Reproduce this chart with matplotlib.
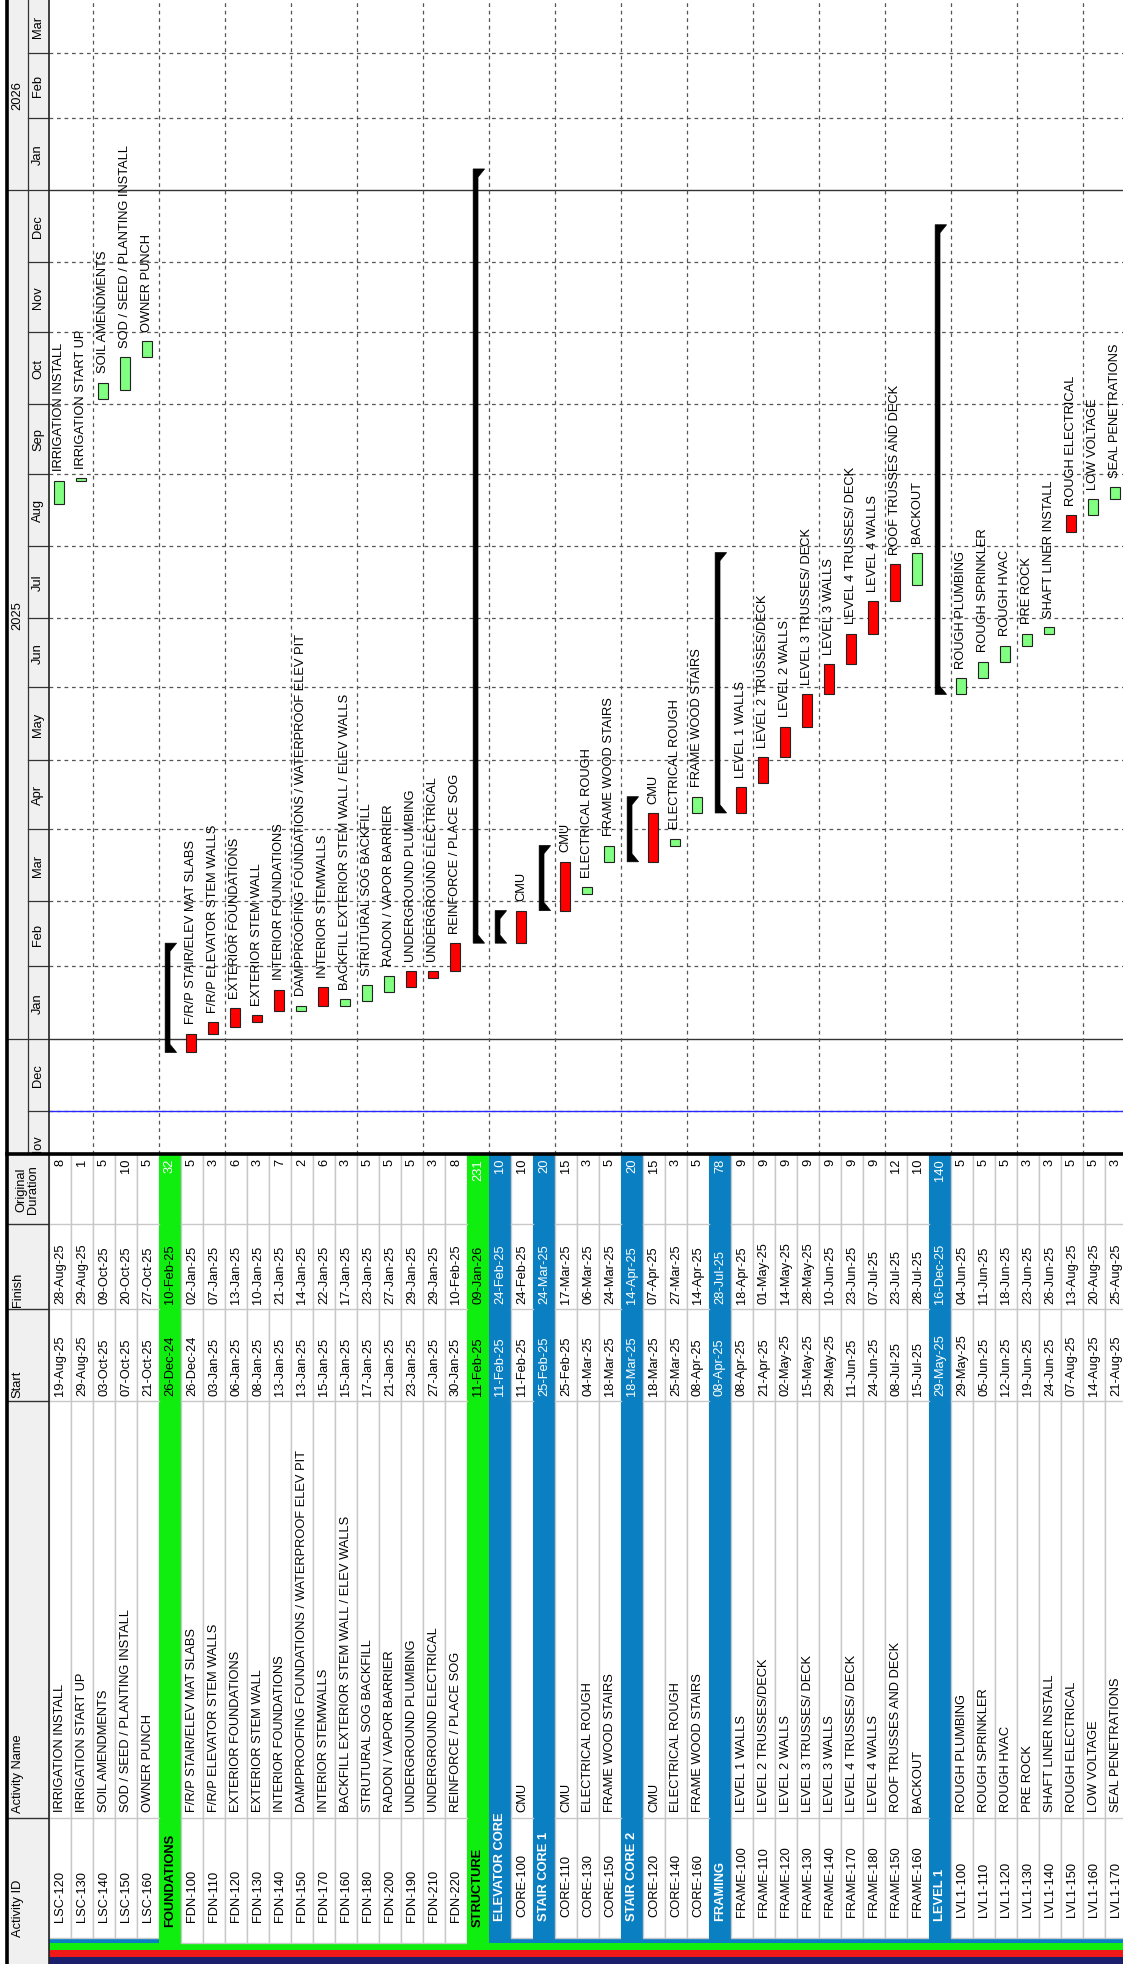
import matplotlib
matplotlib.use("Agg")
import matplotlib.pyplot as plt
from matplotlib.patches import Rectangle, Polygon
from matplotlib.lines import Line2D
import matplotlib.dates as mdates
import pandas as pd

plt.rcParams['font.family'] = ['Liberation Sans', 'DejaVu Sans']

# ---- schedule data (one entry per row) ----
act_ids = ["LSC-120", "LSC-130", "LSC-140", "LSC-150", "LSC-160",
           "FOUNDATIONS", "FDN-100", "FDN-110", "FDN-120", "FDN-130", "FDN-140",
           "FDN-150", "FDN-170", "FDN-160", "FDN-180", "FDN-200", "FDN-190",
           "FDN-210", "FDN-220",
           "STRUCTURE", "ELEVATOR CORE", "CORE-100",
           "STAIR CORE 1", "CORE-110", "CORE-130", "CORE-150",
           "STAIR CORE 2", "CORE-120", "CORE-140", "CORE-160",
           "FRAMING", "FRAME-100", "FRAME-110", "FRAME-120", "FRAME-130",
           "FRAME-140", "FRAME-170", "FRAME-180", "FRAME-150", "FRAME-160",
           "LEVEL 1", "LVL1-100", "LVL1-110", "LVL1-120", "LVL1-130",
           "LVL1-140", "LVL1-150", "LVL1-160", "LVL1-170"]

act_names = ["IRRIGATION INSTALL", "IRRIGATION START UP", "SOIL AMENDMENTS",
             "SOD / SEED / PLANTING INSTALL", "OWNER PUNCH",
             "", "F/R/P STAIR/ELEV MAT SLABS", "F/R/P ELEVATOR STEM WALLS",
             "EXTERIOR FOUNDATIONS", "EXTERIOR STEM WALL", "INTERIOR FOUNDATIONS",
             "DAMPPROOFING FOUNDATIONS / WATERPROOF ELEV PIT", "INTERIOR STEMWALLS",
             "BACKFILL EXTERIOR STEM WALL / ELEV WALLS", "STRUTURAL SOG BACKFILL",
             "RADON / VAPOR BARRIER", "UNDERGROUND PLUMBING",
             "UNDERGROUND ELECTRICAL", "REINFORCE / PLACE SOG",
             "", "", "CMU",
             "", "CMU", "ELECTRICAL ROUGH", "FRAME WOOD STAIRS",
             "", "CMU", "ELECTRICAL ROUGH", "FRAME WOOD STAIRS",
             "", "LEVEL 1 WALLS", "LEVEL 2 TRUSSES/DECK", "LEVEL 2 WALLS",
             "LEVEL 3 TRUSSES/ DECK", "LEVEL 3 WALLS", "LEVEL 4 TRUSSES/ DECK",
             "LEVEL 4 WALLS", "ROOF TRUSSES AND DECK", "BACKOUT",
             "", "ROUGH PLUMBING", "ROUGH SPRINKLER", "ROUGH HVAC", "PRE ROCK",
             "SHAFT LINER INSTALL", "ROUGH ELECTRICAL", "LOW VOLTAGE",
             "SEAL PENETRATIONS"]

start_dates = ["19-Aug-25", "29-Aug-25", "03-Oct-25", "07-Oct-25", "21-Oct-25",
               "26-Dec-24", "26-Dec-24", "03-Jan-25", "06-Jan-25", "08-Jan-25",
               "13-Jan-25", "13-Jan-25", "15-Jan-25", "15-Jan-25", "17-Jan-25",
               "21-Jan-25", "23-Jan-25", "27-Jan-25", "30-Jan-25",
               "11-Feb-25", "11-Feb-25", "11-Feb-25",
               "25-Feb-25", "25-Feb-25", "04-Mar-25", "18-Mar-25",
               "18-Mar-25", "18-Mar-25", "25-Mar-25", "08-Apr-25",
               "08-Apr-25", "08-Apr-25", "21-Apr-25", "02-May-25", "15-May-25",
               "29-May-25", "11-Jun-25", "24-Jun-25", "08-Jul-25", "15-Jul-25",
               "29-May-25", "29-May-25", "05-Jun-25", "12-Jun-25", "19-Jun-25",
               "24-Jun-25", "07-Aug-25", "14-Aug-25", "21-Aug-25"]

finish_dates = ["28-Aug-25", "29-Aug-25", "09-Oct-25", "20-Oct-25", "27-Oct-25",
                "10-Feb-25", "02-Jan-25", "07-Jan-25", "13-Jan-25", "10-Jan-25",
                "21-Jan-25", "14-Jan-25", "22-Jan-25", "17-Jan-25", "23-Jan-25",
                "27-Jan-25", "29-Jan-25", "29-Jan-25", "10-Feb-25",
                "09-Jan-26", "24-Feb-25", "24-Feb-25",
                "24-Mar-25", "17-Mar-25", "06-Mar-25", "24-Mar-25",
                "14-Apr-25", "07-Apr-25", "27-Mar-25", "14-Apr-25",
                "28-Jul-25", "18-Apr-25", "01-May-25", "14-May-25", "28-May-25",
                "10-Jun-25", "23-Jun-25", "07-Jul-25", "23-Jul-25", "28-Jul-25",
                "16-Dec-25", "04-Jun-25", "11-Jun-25", "18-Jun-25", "23-Jun-25",
                "26-Jun-25", "13-Aug-25", "20-Aug-25", "25-Aug-25"]

durations = [8, 1, 5, 10, 5,
             32, 5, 3, 6, 3, 7, 2, 6, 3, 5, 5, 5, 3, 8,
             231, 10, 10,
             20, 15, 3, 5,
             20, 15, 3, 5,
             78, 9, 9, 9, 9, 9, 9, 9, 12, 10,
             140, 5, 5, 5, 3, 3, 5, 5, 3]

# G/B = green/blue WBS heading, C = critical activity, N = non-critical activity
row_kinds = ["N", "N", "N", "N", "N",
             "G", "C", "C", "C", "C", "C", "N", "C", "N", "N", "N", "C", "C", "C",
             "G", "B", "C",
             "B", "C", "N", "N",
             "B", "C", "N", "N",
             "B", "C", "C", "C", "C", "C", "C", "C", "C", "N",
             "B", "N", "N", "N", "N", "N", "C", "N", "N"]

# rows that sit inside a blue WBS band
in_blue = [True] * 5 + [False] * 15 + [True] * 29

# ---- colours ----
WBS_GREEN = "#10ee10"
WBS_BLUE = "#0a7fc2"
BAR_RED = "#ff0000"
BAR_GREEN = "#80ff80"
NAVY = "#1c1f6b"
STRIP_RED = "#f01818"
HEAD_GRAY = "#f0f0f0"
CELL_LINE = "#c8c8c8"
FS = 9.3

W, H = 1123, 1965
ROW = 22.0
X0 = 49           # first row edge
XH = 7            # header strip left edge
G_BOT = 1155      # gantt / table split
PX_DAY = 2.325
Y_JAN25 = 1039.5

fig = plt.figure(figsize=(W / 100, H / 100), dpi=100)
fig.patch.set_facecolor("white")


def frect(x0, y0, x1, y1):
    return [x0 / W, 1 - y1 / H, (x1 - x0) / W, (y1 - y0) / H]


starts = pd.to_datetime(start_dates, format="%d-%b-%y")
finishes = pd.to_datetime(finish_dates, format="%d-%b-%y") + pd.Timedelta(days=1)
s_num = mdates.date2num(starts)
f_num = mdates.date2num(finishes)

jan25 = mdates.date2num(pd.Timestamp("2025-01-01"))
y_lo = jan25 - (G_BOT - Y_JAN25) / PX_DAY
y_hi = jan25 + Y_JAN25 / PX_DAY
n_rows = len(act_ids)
x_hi = (W - X0) / ROW

# ---- gantt area ----
ax = fig.add_axes(frect(X0, 0, W, G_BOT))
ax.set_xlim(0, x_hi)
ax.set_ylim(y_lo, y_hi)
ax.axis("off")

months = pd.date_range("2024-11-01", "2026-03-01", freq="MS")
for m in months:
    yv = mdates.date2num(m)
    if m.month == 1:
        ax.axhline(yv, color="#333333", lw=1.0, zorder=1)
    else:
        ax.axhline(yv, color="#555555", lw=0.9, ls=(0, (3, 3)), zorder=1)
for k in range(2, n_rows + 1, 3):
    ax.axvline(k, color="#555555", lw=0.9, ls=(0, (3, 3)), zorder=1)
ax.axhline(mdates.date2num(pd.Timestamp("2024-12-01")), color="#2a2aff", lw=1.0, zorder=2)

for i in range(n_rows):
    kind = row_kinds[i]
    s, f = s_num[i], f_num[i]
    if kind in ("G", "B"):
        # summary bar with flag ends
        xa, xb, xt = i + 0.28, i + 0.50, i + 0.80
        tl = 3.5
        poly = Polygon([(xa, s), (xt, s), (xb, s + tl), (xb, f - tl), (xt, f), (xa, f)],
                       closed=True, facecolor="black", edgecolor="black", lw=0.5, zorder=4)
        ax.add_patch(poly)
    else:
        color = BAR_RED if kind == "C" else BAR_GREEN
        ax.bar(i + 0.45, f - s, bottom=s, width=0.48, color=color,
               edgecolor="#222222", linewidth=0.8, zorder=4)
        ax.text(i + 0.47, f + 4.5, act_names[i], rotation=90, ha="center", va="bottom",
                fontsize=FS, color="black", zorder=5, clip_on=True)

# ---- timeline header ----
axm = fig.add_axes(frect(XH, 0, X0, G_BOT), sharey=ax)
axm.set_xlim(0, 1)
axm.axis("off")
axm.add_patch(Rectangle((0, y_lo), 1, y_hi - y_lo, facecolor=HEAD_GRAY, edgecolor="none"))
axm.axvline(0.5, color="#333333", lw=0.9)
for m in months:
    yv = mdates.date2num(m)
    nxt = min(mdates.date2num(m + pd.offsets.MonthBegin(1)), y_hi)
    x_from = 0.0 if m.month == 1 else 0.5
    axm.plot([x_from, 1], [yv, yv], color="#333333", lw=0.9)
    axm.text(0.74, (yv + nxt) / 2, m.strftime("%b"), rotation=90, ha="center",
             va="center", fontsize=FS, clip_on=True)
year_spans = {"2025": ("2025-01-01", "2026-01-01"), "2026": ("2026-01-01", None)}
for label, (a, b) in year_spans.items():
    ya = mdates.date2num(pd.Timestamp(a))
    yb = y_hi if b is None else mdates.date2num(pd.Timestamp(b))
    axm.text(0.24, (ya + yb) / 2, label, rotation=90, ha="center", va="center",
             fontsize=FS, clip_on=True)

# ---- table body ----
C_DUR, C_FIN, C_START, C_NAME = 1225, 1310, 1402, 1819
axt = fig.add_axes(frect(X0, G_BOT, W, H))
axt.set_xlim(0, x_hi)
axt.set_ylim(H, G_BOT)
axt.axis("off")

# level strips along the bottom edge
axt.add_patch(Rectangle((0, 1958), n_rows, 7, facecolor=NAVY, edgecolor="none"))
axt.add_patch(Rectangle((0, 1951), n_rows, 7, facecolor=STRIP_RED, edgecolor="none"))
axt.add_patch(Rectangle((0, 1944), n_rows, 7, facecolor=WBS_GREEN, edgecolor="none"))

for i in range(n_rows):
    kind = row_kinds[i]
    if kind == "G":
        axt.add_patch(Rectangle((i, G_BOT), 1, 1951 - G_BOT, facecolor=WBS_GREEN, edgecolor="none"))
    elif kind == "B":
        axt.add_patch(Rectangle((i, G_BOT), 1, 1944 - G_BOT, facecolor=WBS_BLUE, edgecolor="none"))
    else:
        if in_blue[i]:
            axt.add_patch(Rectangle((i, 1939), 1, 5, facecolor=WBS_BLUE, edgecolor="none"))
            cell_end = 1939
        else:
            cell_end = 1944
        axt.add_patch(Rectangle((i, G_BOT), 1, cell_end - G_BOT, facecolor="white",
                                edgecolor=CELL_LINE, lw=1.0))
        for yc in (C_DUR, C_FIN, C_START, C_NAME):
            axt.plot([i, i + 1], [yc, yc], color=CELL_LINE, lw=1.0)

for i in range(n_rows):
    kind = row_kinds[i]
    xc = i + 0.5
    if kind in ("G", "B"):
        tc = "black" if kind == "G" else "white"
        id_y = 1927 if kind == "G" else 1921
        axt.text(xc, id_y, act_ids[i], rotation=90, ha="center", va="bottom",
                 fontsize=FS, fontweight="bold", color=tc)
    else:
        id_y = 1917 if in_blue[i] and i > 4 else 1922
        axt.text(xc, id_y, act_ids[i], rotation=90, ha="center", va="bottom",
                 fontsize=FS, color="black")
        axt.text(xc, 1812, act_names[i], rotation=90, ha="center", va="bottom",
                 fontsize=FS, color="black")
        tc = "black"
    axt.text(xc, 1396, start_dates[i], rotation=90, ha="center",
             va="bottom", fontsize=FS, color=tc)
    axt.text(xc, 1304, finish_dates[i], rotation=90, ha="center",
             va="bottom", fontsize=FS, color=tc)
    axt.text(xc, 1159, str(durations[i]), rotation=90, ha="center", va="top",
             fontsize=FS, color="white" if kind in ("G", "B") else "black")

# ---- table header ----
axh = fig.add_axes(frect(XH, G_BOT, X0, H))
axh.set_xlim(0, 1)
axh.set_ylim(H, G_BOT)
axh.axis("off")
axh.add_patch(Rectangle((0, G_BOT), 1, H - G_BOT, facecolor=HEAD_GRAY, edgecolor="none"))
for yc in (C_DUR, C_FIN, C_START, C_NAME):
    axh.plot([0, 1], [yc, yc], color="#333333", lw=1.0)
axh.text(0.26, 1937, "Activity ID", rotation=90, ha="center", va="bottom", fontsize=FS)
axh.text(0.26, 1813, "Activity Name", rotation=90, ha="center", va="bottom", fontsize=FS)
axh.text(0.26, 1398, "Start", rotation=90, ha="center", va="bottom", fontsize=FS)
axh.text(0.26, 1307, "Finish", rotation=90, ha="center", va="bottom", fontsize=FS)
axh.text(0.48, (G_BOT + C_DUR) / 2, "Original\nDuration", rotation=90, ha="center",
         va="center", fontsize=FS, multialignment="center", linespacing=0.95)

# frame lines
fig.add_artist(Line2D([XH / W, XH / W], [0, 1], color="black", lw=2.6))
fig.add_artist(Line2D([X0 / W, X0 / W], [0, 1], color="#222222", lw=1.2))
fig.add_artist(Line2D([XH / W, 1], [1 - G_BOT / H, 1 - G_BOT / H], color="black", lw=2.6))

fig.savefig("out.png", dpi=100)
